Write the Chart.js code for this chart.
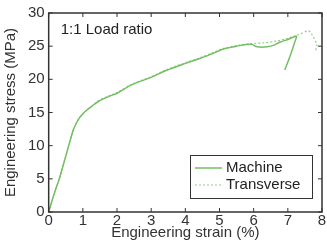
<!DOCTYPE html>
<html>
<head>
<meta charset="utf-8">
<script src="https://cdn.jsdelivr.net/npm/chart.js@4"></script>
<style>
  html, body { margin: 0; padding: 0; background: #fff; }
  #wrap { width: 327px; height: 244px; }
</style>
</head>
<body>
<div id="wrap"><canvas id="c"></canvas></div>
<script>
// strain (%) / stress (MPa)
const machineX = [0, 0.17, 0.31, 0.51, 0.71, 0.8, 0.9, 1.0, 1.1, 1.25, 1.46, 1.8, 2.0, 2.44, 3.0, 3.42, 4.0, 4.4, 4.8, 5.14, 5.5, 5.93, 6.1, 6.4, 6.62, 6.76, 7.0, 7.25, 7.2, 7.1, 7.0, 6.91];
const machineY = [0, 2.9, 5.0, 8.6, 12.2, 13.3, 14.2, 14.8, 15.3, 15.9, 16.7, 17.5, 17.9, 19.2, 20.3, 21.3, 22.4, 23.1, 23.9, 24.6, 25.0, 25.3, 24.9, 24.9, 25.2, 25.6, 26.0, 26.5, 25.6, 24.0, 22.6, 21.4];
const transX = [0, 0.17, 0.31, 0.51, 0.71, 0.8, 0.9, 1.0, 1.1, 1.25, 1.46, 1.8, 2.0, 2.44, 3.0, 3.42, 4.0, 4.4, 4.8, 5.14, 5.5, 5.93, 6.3, 6.7, 7.0, 7.3, 7.6, 7.7, 7.85, 7.8];
const transY = [0, 2.9, 5.0, 8.6, 12.2, 13.3, 14.2, 14.8, 15.3, 15.9, 16.8, 17.6, 18.0, 19.3, 20.4, 21.4, 22.5, 23.2, 24.0, 24.7, 25.1, 25.4, 25.5, 25.8, 26.2, 26.7, 27.3, 26.8, 25.2, 24.2];
const xTicks = [0, 1, 2, 3, 4, 5, 6, 7, 8];
const yTicks = [0, 5, 10, 15, 20, 25, 30];

const toPts = (xs, ys) => xs.map((x, i) => ({ x: x, y: ys[i] }));
const axisColor = '#333';
const FONT = 'Liberation Sans, Arial, sans-serif';

// box frame + inward ticks on all four sides (matlab style)
const frameTicks = {
  id: 'frameTicks',
  afterDraw(chart) {
    const { ctx, chartArea: a, scales } = chart;
    ctx.save();
    ctx.strokeStyle = axisColor;
    ctx.lineWidth = 1.5;
    ctx.strokeRect(a.left, a.top, a.right - a.left, a.bottom - a.top);
    ctx.lineWidth = 1;
    const len = 4;
    xTicks.forEach(v => {
      const px = scales.x.getPixelForValue(v);
      ctx.beginPath();
      ctx.moveTo(px, a.bottom); ctx.lineTo(px, a.bottom - len);
      ctx.moveTo(px, a.top); ctx.lineTo(px, a.top + len);
      ctx.stroke();
    });
    yTicks.forEach(v => {
      const py = scales.y.getPixelForValue(v);
      ctx.beginPath();
      ctx.moveTo(a.left, py); ctx.lineTo(a.left + len, py);
      ctx.moveTo(a.right, py); ctx.lineTo(a.right - len, py);
      ctx.stroke();
    });
    // annotation
    ctx.fillStyle = '#222';
    ctx.font = '15px ' + FONT;
    ctx.textBaseline = 'middle';
    ctx.fillText('1:1 Load ratio', a.left + 12, a.top + 17);
    ctx.restore();
  }
};

new Chart(document.getElementById('c'), {
  type: 'scatter',
  data: {
    datasets: [
      {
        label: 'Machine',
        data: toPts(machineX, machineY),
        showLine: true,
        borderColor: '#74bf63',
        backgroundColor: '#74bf63',
        borderWidth: 1.5,
        pointRadius: 0,
        tension: 0.3,
      },
      {
        label: 'Transverse',
        data: toPts(transX, transY),
        showLine: true,
        borderColor: '#8fcf80',
        backgroundColor: '#8fcf80',
        borderWidth: 1.2,
        borderDash: [2, 2],
        pointRadius: 0,
        tension: 0.3,
      },
    ]
  },
  options: {
    responsive: true,
    maintainAspectRatio: false,
    animation: false,
    layout: { padding: { top: 7, right: 5, left: 2, bottom: 0 } },
    scales: {
      x: {
        type: 'linear',
        min: 0, max: 8,
        afterBuildTicks: s => { s.ticks = xTicks.map(v => ({ value: v })); },
        grid: { display: false, drawTicks: false },
        border: { display: false },
        ticks: { color: axisColor, font: { family: FONT, size: 15 }, padding: 0 },
        title: {
          display: true, text: 'Engineering strain (%)', color: axisColor,
          font: { family: FONT, size: 15 }, padding: { top: -6, bottom: 2 }
        }
      },
      y: {
        type: 'linear',
        min: 0, max: 30,
        afterBuildTicks: s => { s.ticks = yTicks.map(v => ({ value: v })); },
        grid: { display: false, drawTicks: false },
        border: { display: false },
        ticks: { color: axisColor, font: { family: FONT, size: 15 }, padding: 4 },
        title: {
          display: true, text: 'Engineering stress (MPa)', color: axisColor,
          font: { family: FONT, size: 15 }, padding: { top: 0, bottom: 4 }
        }
      }
    },
    plugins: {
      tooltip: { enabled: false },
      legend: { display: false }
    }
  },
  plugins: [frameTicks, {
    id: 'boxLegend',
    afterDraw(chart) {
      const { ctx } = chart;
      const x0 = 190, y0 = 155, w = 122, h = 43;
      ctx.save();
      ctx.fillStyle = '#fff';
      ctx.fillRect(x0, y0, w, h);
      ctx.strokeStyle = axisColor;
      ctx.lineWidth = 1;
      ctx.strokeRect(x0 + 0.5, y0 + 0.5, w, h);
      ctx.font = '15px ' + FONT;
      ctx.textBaseline = 'middle';
      chart.data.datasets.forEach((ds, i) => {
        const yy = y0 + 13 + i * 17;
        ctx.strokeStyle = ds.borderColor;
        ctx.lineWidth = ds.borderWidth;
        ctx.setLineDash(ds.borderDash || []);
        ctx.beginPath();
        ctx.moveTo(x0 + 5, yy); ctx.lineTo(x0 + 32, yy);
        ctx.stroke();
        ctx.setLineDash([]);
        ctx.fillStyle = '#222';
        ctx.fillText(ds.label, x0 + 36, yy);
      });
      ctx.restore();
    }
  }]
});
</script>
</body>
</html>
